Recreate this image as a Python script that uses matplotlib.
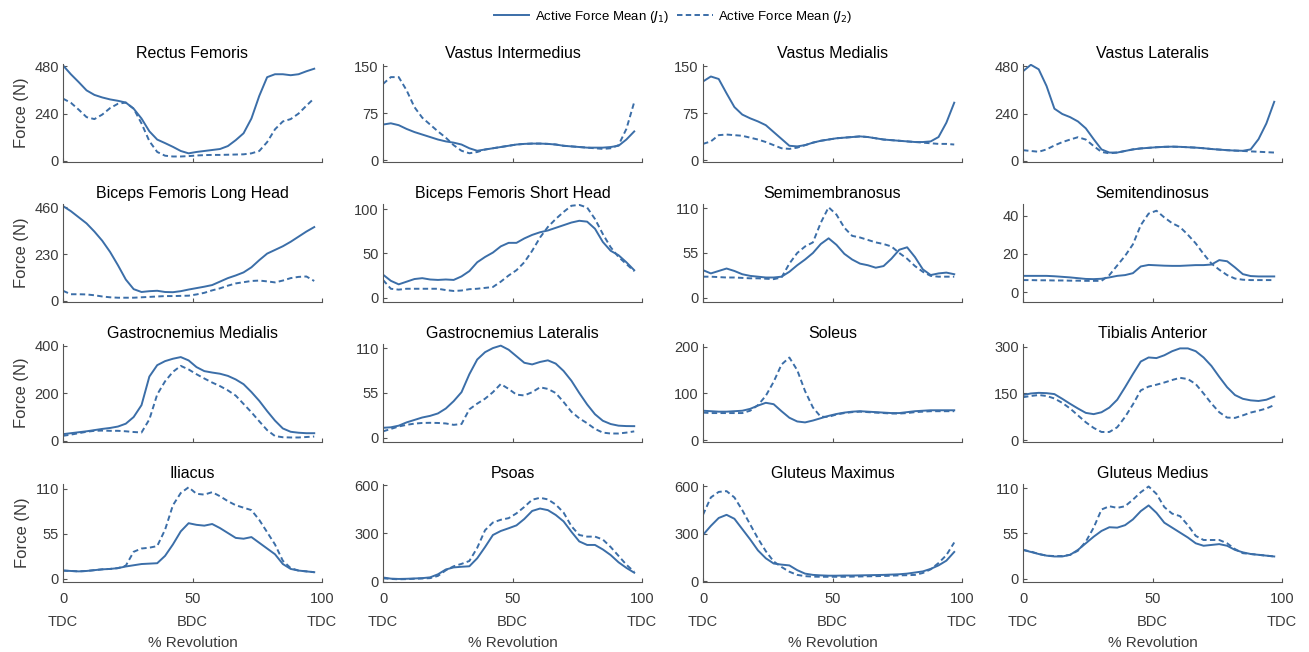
import numpy as np
import matplotlib.pyplot as plt

plt.rcParams['font.family'] = ['Liberation Sans', 'DejaVu Sans']

# % revolution, one sample every ~3 %
x = np.linspace(0, 97, 33)

titles = ['Rectus Femoris', 'Vastus Intermedius', 'Vastus Medialis', 'Vastus Lateralis',
          'Biceps Femoris Long Head', 'Biceps Femoris Short Head', 'Semimembranosus', 'Semitendinosus',
          'Gastrocnemius Medialis', 'Gastrocnemius Lateralis', 'Soleus', 'Tibialis Anterior',
          'Iliacus', 'Psoas', 'Gluteus Maximus', 'Gluteus Medius']

yticks = [[0, 240, 480], [0, 75, 150], [0, 75, 150], [0, 240, 480],
          [0, 230, 460], [0, 50, 100], [0, 55, 110], [0, 20, 40],
          [0, 200, 400], [0, 55, 110], [0, 100, 200], [0, 150, 300],
          [0, 55, 110], [0, 300, 600], [0, 300, 600], [0, 55, 110]]

ylims = [(-6, 492), (-3, 154), (-3, 154), (-6, 492),
         (-5, 475), (-5, 106), (-5, 115), (-5, 46),
         (-5, 407), (-5, 115), (-4, 206), (-5, 308),
         (-4, 116), (-3, 608), (-5, 615), (-4, 115)]

# J1 (solid) and J2 (dashed) active force means, N
rf_j1 = [485, 440, 400, 358, 335, 322, 312, 305, 296, 265, 215, 150, 108, 90, 71, 50, 38,
         45, 50, 55, 60, 75, 105, 140, 215, 330, 425, 440, 440, 435, 440, 455, 468]
rf_j2 = [316, 295, 260, 222, 212, 235, 268, 290, 296, 265, 190, 100, 45, 26, 22, 22, 24,
         27, 29, 30, 30, 31, 32, 33, 38, 50, 95, 160, 200, 212, 240, 280, 318]

vi_j1 = [57, 59, 56, 50, 45, 41, 37, 33, 30, 28, 25, 19, 15, 17, 19, 21, 23,
         25, 26, 26.5, 26.5, 26, 25, 23, 22, 21, 20, 20, 20, 21, 23, 33, 46]
vi_j2 = [122, 133, 133, 112, 85, 68, 57, 46, 36, 24, 15, 11, 13, 17, 19, 21, 23,
         25, 26, 26.5, 26.5, 26, 25, 23, 22, 21, 20, 19, 18, 19, 24, 50, 93]

vm_j1 = [126, 134, 130, 107, 85, 73, 67, 62, 56, 45, 34, 23, 22, 24, 28, 31, 33,
         35, 36, 37, 38, 37, 35, 33, 32, 31, 30, 29, 29, 30, 37, 60, 92]
vm_j2 = [26, 30, 40, 41, 40, 39, 36, 33, 29, 24, 19, 18, 20, 24, 28, 31, 33,
         35, 36, 37, 38, 37, 35, 33, 32, 31, 30, 29, 28, 27, 26, 26, 25]

vl_j1 = [455, 488, 465, 380, 265, 238, 222, 200, 165, 110, 58, 42, 42, 50, 58, 63, 66,
         69, 71, 72, 71, 69, 67, 64, 60, 57, 54, 52, 51, 58, 110, 190, 300]
vl_j2 = [54, 50, 46, 58, 78, 95, 108, 120, 108, 75, 45, 38, 42, 50, 58, 63, 66,
         69, 71, 72, 71, 69, 67, 64, 60, 57, 54, 52, 50, 48, 46, 44, 42]

bflh_j1 = [465, 440, 410, 380, 340, 295, 240, 175, 105, 58, 44, 48, 50, 44, 43, 48, 56,
           63, 70, 78, 95, 112, 125, 140, 165, 200, 232, 250, 268, 290, 315, 340, 362]
bflh_j2 = [50, 33, 33, 32, 28, 22, 18, 16, 16, 16, 18, 20, 22, 24, 24, 25, 26,
           32, 40, 52, 62, 75, 86, 92, 98, 100, 96, 91, 100, 112, 118, 120, 98]

bfsh_j1 = [26, 19, 15, 18, 21, 22, 20.5, 20, 20.5, 20, 24, 30, 40, 46, 51, 58, 62,
           62, 67, 71, 74, 76, 79, 82, 85, 87, 86, 78, 63, 53, 48, 40, 31]
bfsh_j2 = [20, 10, 9, 10, 10, 10, 10, 10, 8.5, 7.5, 8, 9.5, 10, 11, 12, 18, 25,
           31, 40, 53, 68, 80, 89, 97, 104, 105, 102, 89, 72, 57, 46, 38, 30]

sm_j1 = [34, 30, 33, 36, 33, 29, 27, 26, 25, 25, 26, 32, 40, 47, 55, 66, 73,
         65, 54, 47, 42, 40, 37, 39, 48, 59, 62, 50, 35, 28, 30, 31, 29]
sm_j2 = [26, 26, 25.5, 25, 25, 24.5, 24, 24, 23.5, 23, 25, 42, 55, 63, 68, 92, 111,
         102, 86, 76, 74, 71, 68, 66, 63, 55, 48, 39, 32, 27, 26, 26, 26]

st_j1 = [8.6, 8.6, 8.6, 8.6, 8.4, 8.1, 7.8, 7.4, 7.0, 6.9, 7.1, 7.8, 8.6, 9.0, 10.0, 13.5, 14.3,
         14.1, 13.9, 13.8, 13.8, 14.0, 14.2, 14.2, 14.5, 16.8, 16.2, 13.0, 9.5, 8.5, 8.3, 8.3, 8.3]
st_j2 = [6.4, 6.4, 6.3, 6.3, 6.2, 6.2, 6.1, 6.1, 6.0, 6.0, 6.0, 9, 14, 19, 25, 35, 41,
         42.5, 39, 36, 34, 30, 25.5, 20, 15, 11.8, 9, 7.2, 6.6, 6.4, 6.4, 6.4, 6.4]

gm_j1 = [28, 32, 36, 40, 45, 50, 54, 60, 72, 100, 150, 270, 318, 335, 345, 352, 338,
         310, 293, 287, 282, 273, 258, 238, 205, 168, 125, 85, 52, 38, 34, 32, 32]
gm_j2 = [21, 26, 32, 38, 42, 43, 42, 42, 40, 37, 35, 90, 195, 250, 290, 315, 300,
         280, 262, 245, 230, 212, 190, 155, 120, 82, 45, 20, 15, 14, 14, 16, 18]

gl_j1 = [12.4, 13, 15, 19, 22, 25, 27, 30, 36, 45, 56, 78, 96, 105, 110, 113, 108,
         100, 92, 90, 93, 95, 91, 82, 70, 55, 41, 29, 21, 17, 15, 14.5, 14.4]
gl_j2 = [8, 11, 14, 16, 17.5, 18.3, 18.5, 18.3, 17.7, 16, 17, 35, 42, 48, 56, 66, 60,
         53, 52, 56, 62, 60, 55, 44, 32, 24, 18, 11, 6.5, 5.4, 5.4, 6.5, 8]

sol_j1 = [63, 62, 61, 61, 62, 63, 67, 74, 80, 77, 62, 48, 40, 38, 42, 47, 52,
          56, 59, 61, 62, 61, 60, 59, 58, 58, 60, 62, 63, 64, 64, 64, 64]
sol_j2 = [59, 58, 58, 58, 58, 58, 63, 75, 95, 125, 162, 177, 150, 105, 70, 50, 50,
          55, 58, 60, 61, 60, 59, 58, 57, 57, 58, 60, 61, 62, 62, 62, 62]

ta_j1 = [145, 150, 152, 151, 148, 133, 117, 102, 88, 84, 90, 105, 130, 170, 212, 252, 265,
         263, 272, 285, 294, 294, 285, 265, 238, 203, 170, 145, 133, 128, 126, 130, 140]
ta_j2 = [138, 142, 145, 142, 134, 120, 102, 80, 58, 40, 27, 27, 42, 75, 115, 160, 172,
         178, 185, 193, 200, 196, 180, 150, 118, 90, 73, 72, 80, 89, 95, 102, 113]

il_j1 = [10, 9.5, 9, 9.5, 10.5, 11.5, 12, 13, 15, 16.5, 18, 18.5, 19, 28, 42, 58, 68,
         66, 65, 67, 62, 56, 50, 49, 51, 44, 37, 30, 18, 12, 10, 9, 8]
il_j2 = [10, 9.5, 9, 9.5, 10.5, 11.5, 12, 13, 16, 33, 37, 38, 40, 60, 90, 105, 112,
         104, 103, 106, 101, 95, 90, 87, 84, 72, 57, 42, 22, 13, 10, 9, 8]

ps_j1 = [25, 18, 16, 17, 19, 21, 26, 45, 75, 88, 92, 95, 145, 215, 290, 315, 332,
         350, 390, 440, 455, 445, 415, 375, 310, 250, 228, 228, 200, 165, 120, 85, 55]
ps_j2 = [20, 16, 14, 15, 17, 19, 21, 35, 70, 95, 110, 128, 210, 320, 368, 385, 395,
         425, 465, 510, 522, 512, 480, 430, 345, 290, 280, 280, 262, 215, 160, 105, 60]

gmax_j1 = [293, 350, 400, 420, 395, 330, 265, 195, 145, 112, 105, 100, 70, 48, 40, 37, 35,
           35, 36, 36, 37, 38, 39, 40, 42, 44, 48, 55, 62, 78, 100, 130, 185]
gmax_j2 = [420, 530, 565, 570, 530, 450, 360, 270, 190, 125, 90, 60, 40, 32, 29, 28, 28,
           28, 28, 29, 30, 31, 32, 33, 35, 37, 38, 40, 52, 75, 115, 165, 245]

gmed_j1 = [35, 32.5, 30, 28, 27, 27, 29, 35, 43, 51, 58, 62.5, 62, 65, 72, 82, 89,
           80, 68, 62, 56, 50, 43, 40, 41, 42, 40, 35, 32, 30, 29, 28, 27]
gmed_j2 = [35, 33, 30, 28, 27.5, 27.5, 29, 34, 45, 62, 84, 88, 86, 88, 96, 105, 112,
           103, 87, 79, 76, 65, 52, 47, 47, 47, 43, 36, 31, 30, 29, 28, 27]

j1_series = [rf_j1, vi_j1, vm_j1, vl_j1, bflh_j1, bfsh_j1, sm_j1, st_j1,
             gm_j1, gl_j1, sol_j1, ta_j1, il_j1, ps_j1, gmax_j1, gmed_j1]
j2_series = [rf_j2, vi_j2, vm_j2, vl_j2, bflh_j2, bfsh_j2, sm_j2, st_j2,
             gm_j2, gl_j2, sol_j2, ta_j2, il_j2, ps_j2, gmax_j2, gmed_j2]

blue = '#3b6ea8'
axis_col = '#555555'
text_col = '#3a3a3a'

W, H = 1309, 652
fig = plt.figure(figsize=(W / 100, H / 100), dpi=100)

col_left = [63, 383, 703, 1023]
row_top = [64, 204, 344, 484]
ax_w, ax_h = 259, 98

lines = None
for i in range(16):
    r, c = divmod(i, 4)
    ax = fig.add_axes([col_left[c] / W, 1 - (row_top[r] + ax_h) / H, ax_w / W, ax_h / H])
    l1, = ax.plot(x, j1_series[i], color=blue, lw=1.4, label='Active Force Mean ($J_1$)')
    l2, = ax.plot(x, j2_series[i], color=blue, lw=1.4, ls=(0, (2.8, 1.7)),
                  label='Active Force Mean ($J_2$)')
    lines = [l1, l2]
    ax.set_xlim(0, 100)
    ax.set_ylim(*ylims[i])
    ax.set_yticks(yticks[i])
    ax.set_xticks([0, 50, 100])
    ax.set_title(titles[i], fontsize=11.5, pad=4, color='black')
    for s in ['top', 'right']:
        ax.spines[s].set_visible(False)
    for s in ['left', 'bottom']:
        ax.spines[s].set_color(axis_col)
        ax.spines[s].set_linewidth(0.8)
    ax.tick_params(direction='in', length=3, width=0.8, color=axis_col,
                   labelsize=10.5, labelcolor=text_col, pad=3)
    ax.tick_params(axis='x', pad=7)
    if r == 3:
        ax.set_xticklabels(['0\nTDC', '50\nBDC', '100\nTDC'], linespacing=1.85)
        ax.set_xlabel('% Revolution', fontsize=11, color=text_col, labelpad=5)
    else:
        ax.set_xticklabels([])
    if c == 0:
        ax.set_ylabel('Force (N)', fontsize=12, color=text_col, labelpad=4)

fig.legend(lines, [l.get_label() for l in lines], loc='center',
           bbox_to_anchor=(673 / W, 1 - 17 / H), ncol=2, frameon=False, fontsize=9.5,
           handlelength=2.7, handletextpad=0.4, columnspacing=0.6)

fig.savefig('out.png', dpi=100)
